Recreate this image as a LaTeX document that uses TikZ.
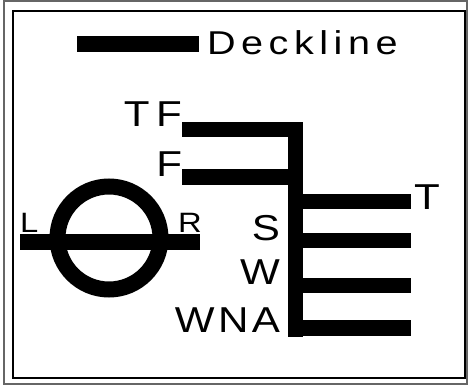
\documentclass[tikz,border=0pt]{standalone}
\usepackage{fontspec}
\setmainfont{Liberation Sans}
\newfontfamily\lblfont[LetterSpace=8]{Liberation Sans}
\newfontfamily\tflfont[LetterSpace=16]{Liberation Sans}
\newfontfamily\dlfont[LetterSpace=14]{Liberation Sans}
\newcommand{\wide}[1]{\scalebox{1.17}[1]{#1}}
\newcommand{\wider}[1]{\scalebox{1.2}[1]{#1}}
\tikzset{
  bar/.style={fill=black,draw=none},
  lbl/.style={inner sep=0pt,outer sep=0pt,font=\lblfont\fontsize{36}{36}\selectfont},
  small/.style={inner sep=0pt,outer sep=0pt,font=\lblfont\fontsize{28}{28}\selectfont},
  legend/.style={inner sep=0pt,outer sep=0pt,font=\dlfont\fontsize{33}{33}\selectfont},
}
\begin{document}
\begin{tikzpicture}[x=1pt,y=-1pt]
\useasboundingbox (0,0) rectangle (472,385);
\fill[white] (0,0) rectangle (472,385);
% frames
\draw[gray!80!black,line width=1.5pt] (4,1) rectangle (467,384);
\draw[black,line width=1.5pt] (13,11) rectangle (465,378);
% legend
\fill[bar] (77,36) rectangle (199,52);
\node[legend,anchor=base west] (dl) at (207,55) {\wider{Deckline}};
% deck bars
\fill[bar] (182,122) rectangle (303,137);
\fill[bar] (182,169) rectangle (303,185);
\fill[bar] (288,122) rectangle (303,337);
\fill[bar] (303,194) rectangle (411,209);
\fill[bar] (303,233) rectangle (411,248);
\fill[bar] (303,278) rectangle (411,293);
\fill[bar] (303,320) rectangle (411,336);
% labels
\node[lbl,font=\tflfont\fontsize{36}{36}\selectfont,anchor=base east] (tf) at (182,127) {\wide{TF}};
\node[lbl,anchor=base east] (f) at (182,177) {\wide{F}};
\node[lbl,anchor=base west] (t) at (414,210) {\wide{T}};
\node[lbl,anchor=base east] (s) at (280,241) {\wide{S}};
\node[lbl,anchor=base east] (w) at (280,285) {\wide{W}};
\node[lbl,anchor=base east] (wna) at (280,333) {\wide{WNA}};
% circle symbol
\draw[line width=16pt] (109,238) circle[radius=51.5];
\fill[bar] (20,234) rectangle (200,250);
\node[small,anchor=base west] (l) at (20,233) {\wide{L}};
\node[small,anchor=base west] (r) at (178,233) {\wide{R}};
\end{tikzpicture}
\end{document}
